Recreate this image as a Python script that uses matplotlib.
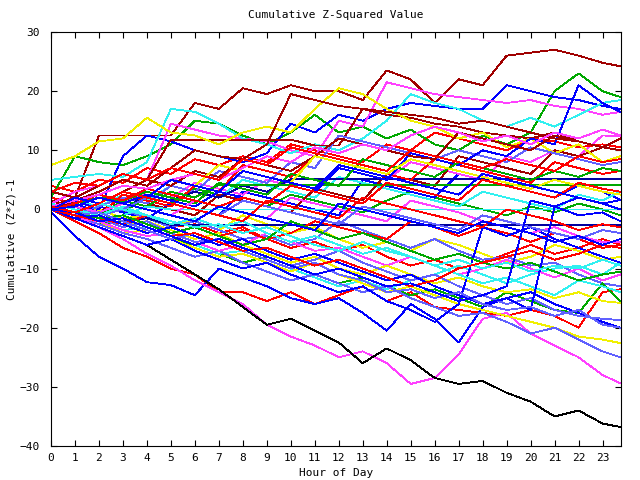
import matplotlib
matplotlib.use("Agg")
import matplotlib.pyplot as plt

# hourly samples, last one at the right edge of the plot
HOURS = [0, 1, 2, 3, 4, 5, 6, 7, 8, 9, 10, 11, 12, 13, 14, 15, 16, 17, 18, 19, 20, 21, 22, 23, 23.75]
HOUR_TICKS = list(range(24))
Y_TICKS = [-40, -30, -20, -10, 0, 10, 20, 30]

dkred_top = [0.5, 2, 12.5, 12.5, 12.5, 12.5, 18, 17, 20.5, 19.5, 21, 20, 20, 18.5, 23.5, 22, 18, 22, 21, 26, 26.5, 27, 26, 24.8, 24.2]
yellow_top = [7.5, 9, 11.5, 12, 15.5, 13, 12.5, 11, 13, 14, 13, 17, 20.5, 19.5, 17, 15, 14, 12, 13, 10.5, 12, 9.5, 11, 8, 9]
cyan_top = [5, 5.5, 6, 5.5, 8, 17, 16.5, 14.5, 12, 11, 9.5, 11, 10, 12, 15, 19.5, 18, 17, 15, 14, 15.5, 14, 16, 18, 18.5]
green_top = [2, 9, 8, 7.5, 9, 11, 15, 14.5, 12.5, 11, 13, 16, 13, 14, 12, 13.5, 11, 10, 12.5, 11, 13, 20, 23, 20, 19]
magenta_top = [1, 3, 4, 6, 5, 14.5, 13.5, 12.5, 12, 11.5, 10, 9, 15, 14, 21.5, 20.5, 19.5, 19, 18.5, 18, 18.5, 17.5, 17, 16, 16.5]
blue_top = [0, 1.5, 0, 9, 12.5, 11.5, 10, 9, 8, 9.5, 14.5, 13, 16, 15, 17, 18, 17.5, 17, 17, 21, 20, 19, 18.5, 17.5, 17]
dkred_flat = [3, 2, 4, 6, 5, 11.8, 11.8, 11.8, 11.8, 11.8, 11.8, 10.8, 10.8, 17, 16, 15.5, 14.5, 14, 13, 12.5, 12, 13, 11.5, 10.5, 10]
red_up = [4, 3, 5, 4.5, 7, 6, 8.5, 7.5, 9, 8, 11, 10, 9, 8, 11, 10, 13, 12, 11, 10, 12, 11.5, 10.5, 11, 10.5]
slate_up = [0, -1, 0.5, 2, 1, 4, 3, 6.5, 5.5, 4.5, 8, 7, 12.5, 11.5, 10.5, 9.5, 8.5, 10, 9, 8, 10.5, 9.5, 8.5, 7.5, 8]
navy_flat_hi = [0, -0.5, 1, 0, 2.5, 1.5, 3, 2, 4, 3, 5.1, 5.1, 5.1, 5.1, 5.1, 5.1, 5.1, 5.1, 5.1, 5.1, 5.1, 5.1, 5.1, 5.1, 5.1]
green_flat = [1, 0, -1, 1.5, 0.5, 3, 2, 4.2, 4.2, 4.2, 4.2, 4.2, 4.2, 4.2, 4.2, 4.2, 4.2, 4.2, 4.2, 4.2, 4.2, 4.2, 4.2, 4.2, 4.2]
cyan_flat = [0, -1, -2, -1, 0.5, 0, 0, 0, 0, 0, 0, 0, 0, 0, 0, 0, 0, 0, 0, 0, 0, 0, 0, 0, 0]
navy_flat_lo = [0, -1, -0.5, -2, -1.5, -2.6, -2.6, -2.6, -2.6, -2.6, -2.6, -2.6, -2.6, -2.6, -2.6, -2.6, -2.6, -2.6, -2.6, -2.6, -2.6, -2.6, -2.6, -2.6, -2.6]
red_mid = [1, 0, -1, 2.5, 1.5, 0.5, 4, 3, 7.5, 6.5, 5.5, 9, 8, 7, 6, 5, 8.5, 7.5, 6.5, 5.5, 4.5, 8, 7, 6, 6.5]
blue_jump22 = [0.5, 1, -0.5, 1, 2.5, 1.5, 0.5, 3, 2, 1, 4, 3, 7, 6, 5, 9.5, 8.5, 7.5, 10, 9, 12, 11, 21, 18, 16.5]
blue_jump18 = [0, -1.5, -3, -4.5, -6, -5, -7, -8.5, -10, -9, -11, -12.5, -14, -13, -15.5, -17, -19, -16, -3, -4.5, -3, -5, -6.5, -8, -9]
blue_low = [-0.5, -4.5, -8, -10, -12.3, -12.8, -14.5, -10, -11.5, -13, -15, -16, -15, -17.5, -20.5, -16, -18.5, -22.5, -16.5, -15, -14, -16, -17.5, -19, -20]
black_low = [0, -1.5, -3, -4.5, -6, -8.5, -11, -13.5, -16.5, -19.5, -18.5, -20.5, -22.5, -26, -23.5, -25.5, -28.5, -29.5, -29, -31, -32.5, -35, -34, -36.2, -36.8]
magenta_low = [0, -1, -3, -5, -7.5, -9.5, -12, -14, -16, -19.5, -21.5, -23, -25, -24, -26, -29.5, -28.5, -24.5, -18.5, -17.5, -21, -23, -25, -28, -29.4]
red_low = [0, -2, -4, -6.5, -8, -10, -11, -14, -14, -15.5, -14, -16, -14.5, -13, -15.5, -14, -16.5, -17, -17.5, -18, -17, -18, -20, -14, -13.5]
slate_low = [0, -1, -2.5, -4, -5, -6.5, -8, -7, -9, -10.5, -12, -11, -12.5, -14, -13, -15, -16.5, -18, -17.5, -19, -21, -20, -22, -24, -25]
yellow_low = [0, -1.5, -2, -4, -3.5, -5, -6.5, -8, -7.5, -9, -10.5, -9, -11, -12.5, -14, -13, -14.5, -16, -17, -18, -19, -20, -21.5, -22, -22.6]
slate_low2 = [0.5, -0.5, -1.5, -3, -2, -4, -5.5, -5, -6.5, -8, -9.5, -8.5, -7, -9, -10.5, -12, -11, -13, -14.5, -16, -15, -17, -18, -18.5, -18.7]
yellow_low2 = [1, 0, -1, -2.5, -2, -3.5, -5, -4, -6, -7.5, -9, -8, -10, -11, -9.5, -11, -12.5, -11.5, -13, -14, -13.5, -15, -14, -15.5, -15.8]
green_low = [0, -1, -2.5, -2, -3.5, -5, -6, -7.5, -9, -8, -9.5, -11, -12.5, -11.5, -13, -14.5, -13.5, -15, -16.5, -14, -15.5, -17, -17.5, -12.5, -15.6]
cyan_low = [0, -1, -2, -3.5, -3, -4.5, -6, -7.5, -7, -8.5, -10, -11.5, -13, -12, -13.5, -12, -11, -9.5, -11, -12.5, -11, -10, -9.5, -11, -9]
red_mid2 = [2, 1, -0.5, -2, -1, -3, -2.5, -4, -3, -5, -6.5, -5.5, -7, -6, -8, -9.5, -8.5, -10, -9, -7.5, -6, -7.5, -6.5, -5, -6]
magenta_mid = [0, 1, 2, 1, 3, 2, 4.5, 3.5, 2.5, 5, 4, 3, 7, 6, 5, 8, 7, 6, 5, 9, 8, 10, 9, 12.5, 12.4]
dkred_mid = [1.5, 0.5, -0.5, 2, 1, 0, -1, 2.5, 1.5, 0.5, -0.5, 3.5, 2.5, 1.5, 6, 5, 4, 9, 8, 7, 6, 10, 9, 10.5, 10]
green_mid = [0, 1.5, 0.5, -0.5, 2, 1, 3.5, 2.5, 1.5, 0.5, 2.5, 1.5, 0.5, -0.5, 1.5, 3, 2, 1, 0, -1, 0.5, -0.5, 1, 0, -1]
blue_mid = [0, -1, 0.5, -0.5, -1.5, 1, 0, -1, 3, 2, 1, 0, -1, 5, 4, 3, 2, 6, 5, 4, 3, 2, 4, 3, 1.6]
red_mid3 = [0, -0.5, -1.5, -2.5, -1, -2, -3, -4.5, -3.5, -5, -4, -2, -3, -4, -5, -2, -3, -4.5, -3, -4, -5.5, -4, -5, -6.5, -6]
cyan_mid = [0.5, 1.5, 0.5, 2.5, 1.5, 4, 3, 2, 5, 4, 3, 2, 5.5, 4.5, 3.5, 2.5, 1.5, 0.5, 3, 2, 1, 0, 2.5, 1.5, 3]
yellow_mid = [0, -1, 0, -1.5, -1, -2.5, -2, -3.5, -1, -2.5, -4, -3, -5, -6.5, -5.5, -7, -5, -6, -7.5, -9, -8, -6, -7, -8.5, -8]
magenta_mid2 = [0, -1.5, -2, -3.5, -4.5, -4, -5.5, -7, -6, -4, -5.5, -7, -6.5, -8, -9.5, -8, -9.5, -11, -10, -8.5, -10, -11.5, -10, -12, -11]
slate_mid = [0, 0.5, -1, 0, -1.5, -3, -2, -3.5, -5, -4.5, -6, -5, -2, -3.5, -5, -6.5, -5, -7, -8.5, -8, -9.5, -9, -11, -12.5, -13]
red_up2 = [3, 4.5, 4, 6, 5, 7, 6, 5, 8.5, 7.5, 10.5, 9.5, 8.5, 7.5, 6.5, 10, 9, 8, 7, 8.5, 7.5, 6.5, 9, 8, 8.5]
dkred_up = [0.5, 2, 1, 3, 5, 4, 6.5, 5.5, 8.5, 7.5, 6.5, 9, 12, 11, 10, 9, 8.5, 13, 12, 11, 10, 12.5, 11.5, 10.5, 12]
blue_jump21 = [0, -1.5, -1, -2.5, -4, -3, -4.5, -6, -5, -7, -8.5, -7.5, -9, -10.5, -12, -11, -13, -14.5, -16, -15, -17, 0.5, -1, -0.5, -2]
green_up = [0, 1, 2, 1.5, 3, 2, 1, 4.5, 3.5, 2.5, 6, 5, 4, 8.5, 7.5, 6.5, 5.5, 8, 7, 6, 5, 6.5, 5.5, 7, 6.5]
cyan_low2 = [1, 0, -1, 0.5, -1, -2.5, -1.5, -3, -2, -4, -5.5, -4.5, -6, -7.5, -6.5, -8, -9.5, -11, -12.5, -11.5, -13, -14.5, -12, -13, -14]
red_mid4 = [0, 1, 2.5, 1.5, 3.5, 2.5, 1.5, 0.5, 2, 1, 4, 3, 2, 1, 4.5, 3.5, 2.5, 1.5, 5, 4, 3, 2, 4.5, 3.5, 3]
blue_up2 = [0, 2, 1, 3, 2, 5, 4, 3, 6.5, 5.5, 4.5, 3.5, 7.5, 6.5, 5.5, 4.5, 3.5, 2.5, 6, 5, 4, 3, 2, 1, 0]
magenta_mid3 = [0, 0.5, -0.5, 1, 0, -1, 1.5, 0.5, -0.5, -1.5, 2, 1, 0, -1, -2, 1.5, 0.5, -0.5, -2, -3, -4, -3, -4.5, -5.5, -5.5]
yellow_up = [0, 1, 2.5, 1.5, 3.5, 5, 4, 7.5, 6.5, 5.5, 4.5, 9, 8, 7, 6, 8.5, 7.5, 6.5, 5.5, 4.5, 3.5, 5, 4, 3, 2.5]
slate_mid2 = [0, -0.5, 1, 0, 2, 1, 0, -1, 1.5, 0.5, -0.5, -1.5, -2.5, 0.5, -0.5, -1.5, -2.5, -3.5, -1, -2, -3, -4, -5, -3.5, -4]
dkred_up2 = [0, 1.5, 3, 5, 4, 7, 10, 9, 8.5, 11, 19.5, 18.5, 17.5, 17, 16.5, 16, 15.5, 14.5, 15, 14, 13, 12, 11.5, 10.5, 10]
blue_jump20 = [0, -0.5, -2, -1.5, -3, -4.5, -6, -5, -6.5, -8, -9.5, -11, -10, -11.5, -13, -12.5, -14, -15.5, -14.5, -13, 1.5, 0.5, 2, 1, 1.6]
red_mid5 = [0, -1, -2, -1.5, -3, -4.5, -4, -5.5, -7, -6.5, -8, -9.5, -8.5, -10, -11.5, -13, -12, -10, -9, -8, -7, -8.5, -7.5, -6, -6.5]
green_mid2 = [0, -0.5, -1.5, -1, -2.5, -4, -3, -4.5, -6, -5, -2, -3.5, -5, -4, -5.5, -7, -8.5, -7.5, -9, -10, -9, -10.5, -12, -11, -10.5]
blue_mid2 = [0, 0.5, 2, 1, 0, -1, -2, 0.5, -0.5, -1.5, -2.5, -3.5, 1, 0, -1, -2, -3, -4, -2, -3, -4, -5.5, -4.5, -6, -5]
red_mid6 = [0.5, -0.5, 1, 3, 2, 1, 0, -1, -2, 1.5, 0.5, -0.5, -1.5, 2, 1, 0, -1, -2, -3, 0, -1, -2, -3.5, -2.5, -3]
cyan_mid2 = [0, -0.5, 1, 0, -1, -2, -3, -2.5, -4, -3, -4.5, -6, -7, -5.5, -7, -8, -9.5, -8.5, -10, -9, -10.5, -9.5, -10, -8.5, -9.5]
magenta_up2 = [0.5, 1.5, 2.5, 4, 3.5, 5, 6, 5, 7, 9, 8, 10.5, 9.5, 11, 10, 12.5, 14, 13, 11.5, 12.5, 11, 13, 12, 13.5, 12.5]
slate_low3 = [0, -1, -0.5, -2, -3.5, -5, -4, -5.5, -7, -8.5, -10, -9, -11, -12, -14, -13.5, -15, -14, -16, -17, -16.5, -18, -17, -19.5, -20]

RED = '#ff0000'
GREEN = '#00a800'
BLUE = '#0000ff'
MAGENTA = '#ff40ff'
CYAN = '#30f0f0'
DKRED = '#a00000'
YELLOW = '#f0f000'
SLATE = '#6060ff'
NAVY = '#0000a0'
BLACK = '#000000'

lines = [
    (red_mid2, RED), (green_mid, GREEN), (blue_mid, BLUE), (magenta_mid, MAGENTA), (cyan_mid, CYAN),
    (dkred_mid, DKRED), (yellow_mid, YELLOW), (slate_mid, SLATE),
    (red_low, RED), (green_low, GREEN), (blue_low, BLUE), (magenta_low, MAGENTA), (cyan_low, CYAN),
    (dkred_top, DKRED), (yellow_low, YELLOW), (slate_low, SLATE), (black_low, BLACK), (navy_flat_lo, NAVY),
    (red_up, RED), (green_top, GREEN), (blue_top, BLUE), (magenta_top, MAGENTA), (cyan_top, CYAN),
    (dkred_flat, DKRED), (yellow_top, YELLOW), (slate_up, SLATE), (navy_flat_hi, NAVY),
    (red_mid, RED), (green_flat, GREEN), (blue_jump22, BLUE), (magenta_mid2, MAGENTA), (cyan_flat, CYAN),
    (dkred_up, DKRED), (yellow_low2, YELLOW), (slate_low2, SLATE),
    (red_mid3, RED), (green_up, GREEN), (blue_jump18, BLUE), (magenta_mid3, MAGENTA), (cyan_low2, CYAN),
    (dkred_up2, DKRED), (yellow_up, YELLOW), (slate_mid2, SLATE),
    (red_mid4, RED), (green_mid2, GREEN), (blue_jump21, BLUE), (magenta_up2, MAGENTA), (cyan_mid2, CYAN),
    (red_up2, RED), (blue_up2, BLUE), (slate_low3, SLATE),
    (red_mid5, RED), (blue_jump20, BLUE), (red_mid6, RED), (blue_mid2, BLUE),
]

plt.rcParams['font.family'] = ['DejaVu Sans Mono']
plt.rcParams['font.size'] = 8

fig = plt.figure(figsize=(6.4, 4.8), dpi=100)
ax = fig.add_axes([51 / 640, 34 / 480, 570 / 640, 414 / 480])

for vals, col in lines:
    ax.plot(HOURS, vals, color=col, lw=0.6, antialiased=False)

ax.set_xlim(0, 23.77)
ax.set_ylim(-40, 30)
ax.set_xticks(HOUR_TICKS)
ax.set_yticks(Y_TICKS)
ax.tick_params(direction='in', length=4.5, width=0.8, top=True, right=True)
ax.tick_params(axis='y', pad=8)
ax.tick_params(axis='x', pad=5)
for sp in ax.spines.values():
    sp.set_linewidth(0.8)

ax.set_title('Cumulative Z-Squared Value', fontsize=8, pad=10)
ax.set_xlabel('Hour of Day', fontsize=8, labelpad=4)
ax.set_ylabel('Cumulative (Z*Z)-1', fontsize=8, labelpad=2)

fig.savefig('out.png', dpi=100)
